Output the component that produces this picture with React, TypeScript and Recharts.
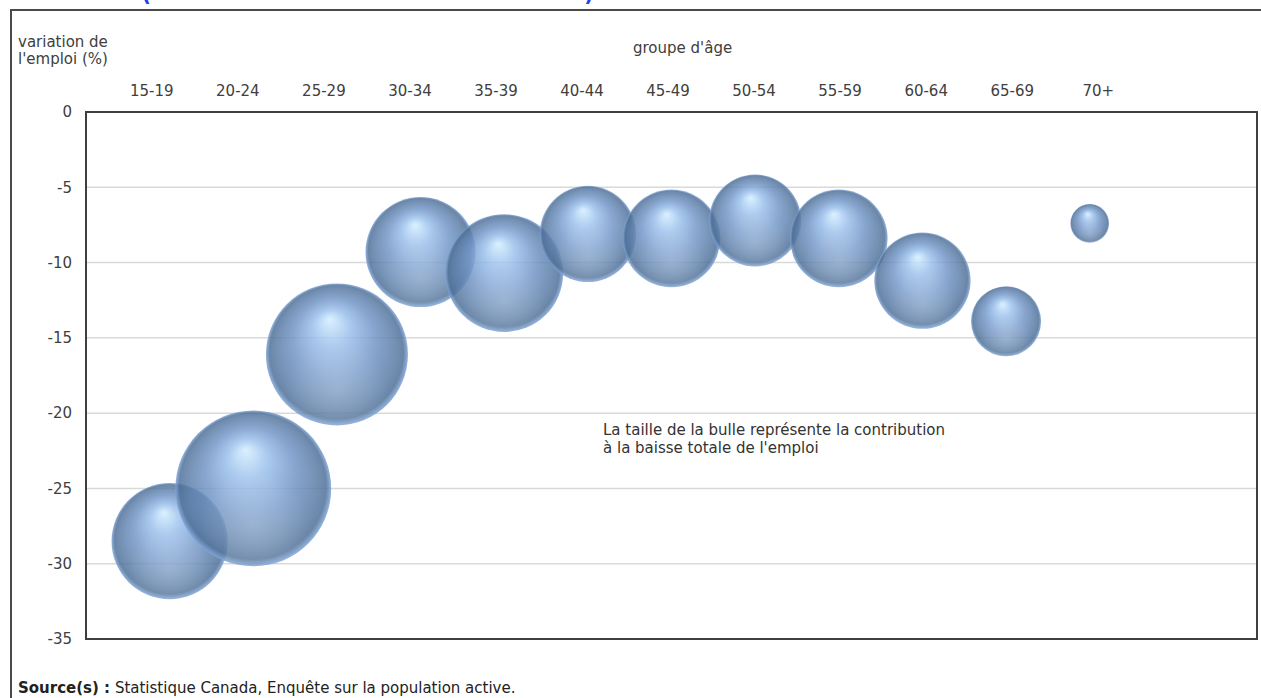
import React from 'react';
import { ScatterChart, Scatter, XAxis, YAxis, ZAxis, CartesianGrid } from 'recharts';

const ageGroups = ['15-19', '20-24', '25-29', '30-34', '35-39', '40-44', '45-49', '50-54', '55-59', '60-64', '65-69', '70+'];
const employmentChange = [-28.5, -25.0, -16.1, -9.3, -10.7, -8.1, -8.4, -7.2, -8.4, -11.2, -13.9, -7.4];
const contribution = [9.9, 17.8, 14.8, 8.9, 10.2, 6.8, 7.0, 6.2, 7.0, 6.8, 3.6, 1.1];
const yTicks = [0, -5, -10, -15, -20, -25, -30, -35];
const positions = ageGroups.map((_, i) => i + 1);

const data = ageGroups.map((g, i) => ({
  group: g,
  pos: positions[i],
  change: employmentChange[i],
  contrib: contribution[i],
}));

const FONT = '"DejaVu Sans", Verdana, sans-serif';
const TEXT = '#404040';

const Bubble = (props: any) => {
  const { cx, cy } = props;
  const r = props.width ? props.width / 2 : Math.sqrt((props.size || 0) / Math.PI);
  const id = `bub-${Math.round(cx)}-${Math.round(cy)}`;
  return (
    <g>
      <defs>
        <radialGradient id={id + 'a'} cx="50%" cy="50%" r="50%" fx="45%" fy="25%">
          <stop offset="0" stopColor="#d3eeff" />
          <stop offset="0.26" stopColor="#9abfeb" />
          <stop offset="0.57" stopColor="#7195c6" />
          <stop offset="0.83" stopColor="#5a7ca6" />
          <stop offset="0.94" stopColor="#4d6e96" />
          <stop offset="1" stopColor="#7fa5d8" />
        </radialGradient>
        <radialGradient id={id + 'b'} cx="50%" cy="74%" r="36%">
          <stop offset="0" stopColor="#ffffff" stopOpacity="0.2" />
          <stop offset="1" stopColor="#ffffff" stopOpacity="0" />
        </radialGradient>
      </defs>
      <circle cx={cx} cy={cy} r={r} fill={`url(#${id}a)`} fillOpacity={0.84} />
      <circle cx={cx} cy={cy} r={r} fill={`url(#${id}b)`} />
    </g>
  );
};

const NoShape = () => <g />;

const abs = (left: number, top: number, extra: React.CSSProperties = {}): React.CSSProperties => ({
  position: 'absolute',
  left,
  top,
  fontFamily: FONT,
  fontSize: 15,
  lineHeight: '18px',
  color: TEXT,
  whiteSpace: 'nowrap',
  ...extra,
});

export default function App() {
  return (
    <div style={{ position: 'absolute', left: 0, top: 0, width: 1261, height: 698, overflow: 'hidden', background: '#fff' }}>
      <div style={{ position: 'absolute', left: 0, top: 0, width: 1261, height: 4, overflow: 'hidden' }}>
        <span style={{ position: 'absolute', left: 142, top: -17, fontFamily: FONT, fontSize: 20, fontWeight: 'bold', lineHeight: '24px', color: '#1f3df5' }}>(</span>
        <span style={{ position: 'absolute', left: 584, top: -17, fontFamily: FONT, fontSize: 20, fontWeight: 'bold', lineHeight: '24px', color: '#1f3df5' }}>)</span>
      </div>
      <div style={{ position: 'absolute', left: 10, top: 9, width: 1300, height: 800, borderLeft: '2px solid #4a4a4a', borderTop: '2px solid #4a4a4a' }} />
      <div style={{ position: 'absolute', left: 0, top: 0 }}>
        <ScatterChart width={1261} height={698} margin={{ top: 82, right: 4, bottom: 59, left: 16 }}>
          <CartesianGrid vertical={false} stroke="#d9d9d9" strokeWidth={1.5} />
          <XAxis xAxisId={0} type="number" dataKey="pos" domain={[0, 14]} hide allowDataOverflow />
          <XAxis
            xAxisId="lab"
            orientation="top"
            type="number"
            dataKey="pos"
            domain={[0.235, 13.845]}
            allowDataOverflow
            ticks={positions}
            interval={0}
            tickFormatter={(v: number) => ageGroups[Math.round(v) - 1] ?? ''}
            axisLine={false}
            tickLine={false}
            tickSize={6}
            tickMargin={10}
            height={30}
            tick={{ fontSize: 15, fill: TEXT, fontFamily: FONT }}
          />
          <YAxis
            type="number"
            dataKey="change"
            domain={[-35, 0]}
            ticks={yTicks}
            interval={0}
            width={70}
            axisLine={false}
            tickLine={false}
            tickMargin={8}
            tick={{ fontSize: 15, fill: TEXT, fontFamily: FONT }}
          />
          <ZAxis type="number" dataKey="contrib" domain={[0, 20]} range={[0, 21426]} />
          <Scatter xAxisId="lab" data={data} shape={<NoShape />} isAnimationActive={false} />
          <Scatter xAxisId={0} data={data} shape={<Bubble />} isAnimationActive={false} />
        </ScatterChart>
      </div>
      <div style={{ position: 'absolute', left: 85, top: 111, width: 1173, height: 529, boxSizing: 'border-box', border: '2px solid #3f3f3f' }} />
      <div style={abs(18, 33)}>variation de</div>
      <div style={abs(18, 50)}>l'emploi (%)</div>
      <div style={abs(633, 39)}>groupe d'âge</div>
      <div style={abs(603, 421, { color: '#333' })}>La taille de la bulle représente la contribution</div>
      <div style={abs(603, 439, { color: '#333' })}>à la baisse totale de l'emploi</div>
      <div style={abs(18, 679, { color: '#222' })}>
        <b>Source(s) :</b> Statistique Canada, Enquête sur la population active.
      </div>
    </div>
  );
}
